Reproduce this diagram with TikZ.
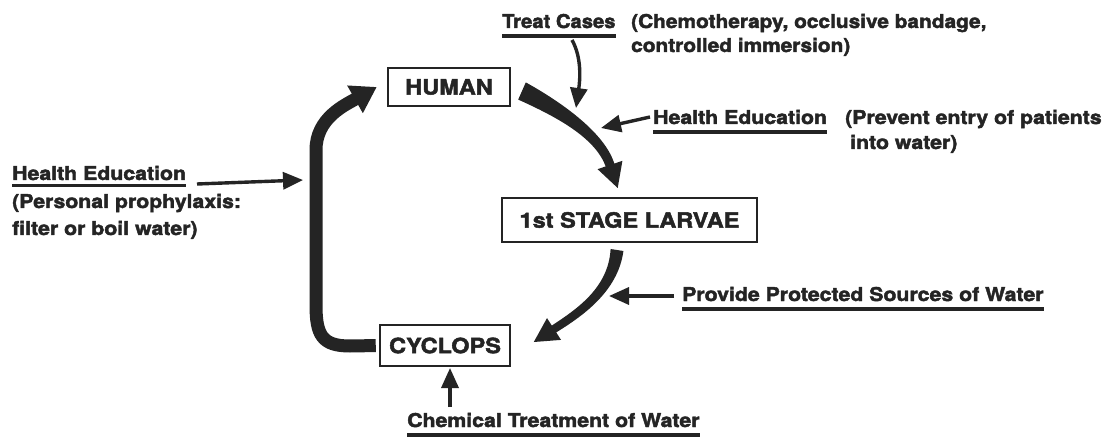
\documentclass[tikz,border=0pt]{standalone}
\usepackage{fontspec}
\usepackage{graphicx}
\setmainfont{TeX Gyre Heros}[BoldFeatures={FakeBold=2.2, FakeStretch=1.12}]
\usetikzlibrary{arrows.meta}
\definecolor{ink}{rgb}{0.14,0.14,0.14}
\newcommand{\hs}[2]{\scalebox{#1}[1]{#2}}
\begin{document}
\begin{tikzpicture}[x=1pt,y=-1pt,
  lbl/.style={font=\bfseries\fontsize{19}{22}\selectfont, inner sep=0pt, text=ink, anchor=base west},
  box/.style={draw=ink, line width=2.5pt, font=\bfseries\fontsize{21}{24}\selectfont, text=ink, inner sep=0pt},
  uline/.style={draw=ink, line width=3.8pt},
  thinarrow/.style={draw=ink, line width=3.4pt, -{Triangle[length=20pt,width=17pt]}},
  looparrow/.style={draw=ink, line width=13pt, -{Triangle[length=25pt,width=30pt]}}
]
\useasboundingbox (0,0) rectangle (1113,438);
\fill[white] (0,0) rectangle (1113,438);

% boxes
\node[box, minimum width=122pt, minimum height=38pt] (human) at (449,87) {HUMAN};
\node[box, minimum width=255pt, minimum height=44pt] (larvae) at (629.5,220) {1st STAGE LARVAE};
\node[box, minimum width=130pt, minimum height=41pt] (cyclops) at (445,345.5) {CYCLOPS};

% labels
\node[lbl] (treat) at (502,28) {\hs{0.95}{Treat Cases}};
\node[lbl] (chemo1) at (631,28) {\hs{0.98}{(Chemotherapy, occlusive bandage,}};
\node[lbl] (chemo2) at (631,52) {\hs{0.98}{controlled immersion)}};
\node[lbl] (heR) at (653,124) {Health Education};
\node[lbl] (prev1) at (845,124) {(Prevent entry of patients};
\node[lbl] (prev2) at (850,149) {into water)};
\node[lbl] (prov) at (682,301) {Provide Protected Sources of Water};
\node[lbl] (chem) at (407,427) {Chemical Treatment of Water};
\node[lbl] (heL) at (12,180) {Health Education};
\node[lbl] (pers1) at (12,208) {(Personal prophylaxis:};
\node[lbl] (pers2) at (12,235) {filter or boil water)};

% underlines
\foreach \n in {treat,heR,prov,chem}{
  \draw[uline] ([yshift=-8pt]\n.base west) -- ([yshift=-8pt]\n.base east);
}
\draw[uline] ([yshift=-5.5pt]heL.base west) -- ([yshift=-5.5pt]heL.base east);

% thin arrows
\coordinate (t1) at (572,40);
\coordinate (t2) at (576,108);
\draw[thinarrow] (t1) .. controls (582,58) and (580,80) .. (t2);
\coordinate (h1) at (650,117);
\coordinate (h2) at (601,128);
\draw[thinarrow] (h1) -- (h2);
\coordinate (p1) at (674,296);
\coordinate (p2) at (609,296);
\draw[thinarrow] (p1) -- (p2);
\coordinate (c1) at (450,407);
\coordinate (c2) at (450,368);
\draw[thinarrow] (c1) -- (c2);
\coordinate (l1) at (197,184);
\coordinate (l2) at (303,180);
\draw[thinarrow] (l1) -- (l2);

% big tapered arrow HUMAN -> larvae
\fill[ink] (525.8,82.4) .. controls (563,103) and (605,133.4) .. (614.3,163.6)
  -- (622.4,160.8) -- (617.7,188) -- (597.6,169.2) -- (605.7,166.4)
  .. controls (595,137.6) and (557,117) .. (518.2,99.6) -- cycle;

% big tapered arrow larvae -> cyclops
\fill[ink] (623.4,251) .. controls (618,292) and (581.4,316.8) .. (556.2,332.4)
  -- (561,339.9) -- (533.8,342) -- (547,318.1) -- (551.8,325.6)
  .. controls (576.6,309.2) and (608.5,288) .. (610.6,249) -- cycle;

% loop arrow cyclops -> human
\draw[looparrow, shorten <=3pt] (cyclops.west) -- (350,346)
  .. controls (322,346) and (316,335) .. (316,305) -- (316,150)
  .. controls (316,118) and (345,105) .. ([xshift=-10pt]human.west);
\end{tikzpicture}
\end{document}
